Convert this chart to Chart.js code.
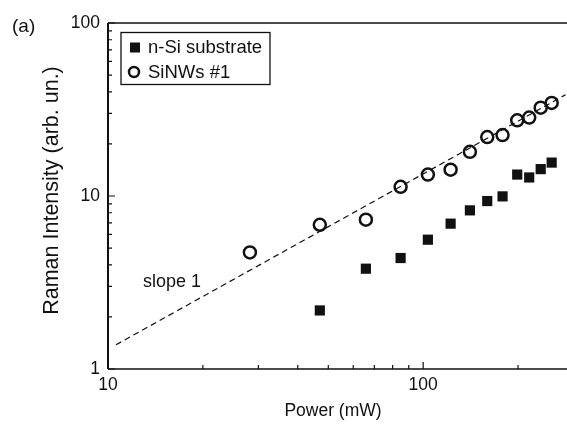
<!DOCTYPE html>
<html>
<head>
<meta charset="utf-8">
<script src="https://cdn.jsdelivr.net/npm/chart.js@4.4.1/dist/chart.umd.min.js"></script>
<style>
    body { margin: 0; background: #fff; }
    #wrap { width: 567px; height: 424px; }
</style>
</head>
<body>
<div id="wrap"><canvas id="raman-chart" width="567" height="424"></canvas></div>
<script>
// values (log-log)
const powerNWs = [28.2, 47.0, 65.8, 84.8, 103.5, 122.2, 140.7, 159.7, 178.6, 198.8, 217, 236, 255.7];
const intensityNWs = [4.72, 6.82, 7.30, 11.3, 13.3, 14.2, 18.0, 21.9, 22.5, 27.4, 28.4, 32.4, 34.5];
const powerSi = [47.0, 65.8, 84.8, 103.5, 122.2, 140.7, 159.7, 178.6, 198.8, 217, 236, 255.7];
const intensitySi = [2.18, 3.80, 4.38, 5.59, 6.92, 8.26, 9.35, 9.95, 13.3, 12.8, 14.3, 15.6];
const slopePower = [10.6, 283];
const slopeIntensity = [1.38, 38.5];
const xTickLabels = [10, 100];
const yTickLabels = [1, 10, 100];

const FONT = '"Liberation Sans", Arial, Helvetica, sans-serif';
const INK = '#111';

const toPoints = (xs, ys) => xs.map((x, i) => ({ x: x, y: ys[i] }));

// inward ticks, frame, legend and annotations
const decorations = {
    id: 'decorations',
    afterDraw(chart) {
        const ctx = chart.ctx;
        const area = chart.chartArea;
        const xs = chart.scales.x;
        const ys = chart.scales.y;
        ctx.save();
        ctx.strokeStyle = INK;

        // frame: left, bottom, top
        ctx.lineWidth = 2;
        ctx.beginPath();
        ctx.moveTo(area.left, area.top);
        ctx.lineTo(area.left, area.bottom);
        ctx.stroke();
        ctx.lineWidth = 1.6;
        ctx.beginPath();
        ctx.moveTo(area.left, area.bottom);
        ctx.lineTo(area.right, area.bottom);
        ctx.moveTo(area.left, area.top);
        ctx.lineTo(area.right, area.top);
        ctx.stroke();

        ctx.lineWidth = 1.2;
        ctx.beginPath();
        for (let d = 1; d <= 2; d++) {
            for (let m = 1; m <= 9; m++) {
                const v = m * Math.pow(10, d);
                if (v < xs.min || v > xs.max) continue;
                const px = xs.getPixelForValue(v);
                const len = m === 1 ? 7 : 4;
                ctx.moveTo(px, area.bottom);
                ctx.lineTo(px, area.bottom - len);
            }
        }
        for (let d = 0; d <= 2; d++) {
            for (let m = 1; m <= 9; m++) {
                const v = m * Math.pow(10, d);
                if (v < ys.min || v > ys.max) continue;
                const py = ys.getPixelForValue(v);
                const len = m === 1 ? 7 : 4;
                ctx.moveTo(area.left, py);
                ctx.lineTo(area.left + len, py);
            }
        }
        ctx.stroke();

        // legend
        ctx.lineWidth = 1.3;
        ctx.strokeRect(121, 32.5, 149, 52);
        ctx.fillStyle = INK;
        ctx.fillRect(130, 42.5, 10, 10);
        ctx.lineWidth = 2.5;
        ctx.beginPath();
        ctx.arc(134, 72, 5, 0, Math.PI * 2);
        ctx.stroke();
        ctx.font = '18.5px ' + FONT;
        ctx.textBaseline = 'middle';
        ctx.textAlign = 'left';
        ctx.fillText(chart.data.datasets[0].label, 148, 48);
        ctx.fillText(chart.data.datasets[1].label, 148, 72.5);

        // annotations
        ctx.font = '19px ' + FONT;
        ctx.fillText('(a)', 12, 27);
        ctx.font = '18px ' + FONT;
        ctx.fillText('slope 1', 143, 282);

        // axis titles
        ctx.textAlign = 'center';
        ctx.font = '17.5px ' + FONT;
        ctx.fillText('Power (mW)', 333, 411);
        ctx.translate(52, 190.5);
        ctx.rotate(-Math.PI / 2);
        ctx.font = '21.5px ' + FONT;
        ctx.fillText('Raman Intensity (arb. un.)', 0, 0);
        ctx.restore();
    }
};

const ctx = document.getElementById('raman-chart').getContext('2d');
new Chart(ctx, {
    type: 'scatter',
    data: {
        datasets: [{
            label: 'n-Si substrate',
            data: toPoints(powerSi, intensitySi),
            pointStyle: 'rect',
            pointRadius: 7.2,
            pointHoverRadius: 7.2,
            backgroundColor: INK,
            borderColor: INK,
            borderWidth: 0
        }, {
            label: 'SiNWs #1',
            data: toPoints(powerNWs, intensityNWs),
            pointStyle: 'circle',
            pointRadius: 6,
            pointHoverRadius: 6,
            backgroundColor: 'rgba(0,0,0,0)',
            borderColor: INK,
            borderWidth: 2.5
        }, {
            label: 'slope 1',
            type: 'line',
            data: toPoints(slopePower, slopeIntensity),
            borderColor: INK,
            borderWidth: 1.2,
            borderDash: [6, 4],
            pointRadius: 0,
            showLine: true,
            fill: false
        }]
    },
    options: {
        responsive: false,
        animation: false,
        events: [],
        layout: {
            autoPadding: false,
            padding: { top: 23, right: 0, left: 0, bottom: 0 }
        },
        plugins: {
            legend: { display: false },
            tooltip: { enabled: false }
        },
        scales: {
            x: {
                type: 'logarithmic',
                min: 10,
                max: 286,
                grid: { display: false, drawTicks: false },
                border: { display: false },
                afterFit: (scale) => {
                    scale.height = 55;
                    scale.paddingLeft = 0;
                    scale.paddingRight = 0;
                },
                ticks: {
                    autoSkip: false,
                    maxRotation: 0,
                    padding: 6,
                    color: INK,
                    font: { family: FONT, size: 17.5 },
                    callback: (v) => xTickLabels.includes(v) ? String(v) : ''
                }
            },
            y: {
                type: 'logarithmic',
                min: 1,
                max: 100,
                grid: { display: false, drawTicks: false },
                border: { display: false },
                afterFit: (scale) => {
                    scale.width = 108;
                    scale.paddingTop = 0;
                    scale.paddingBottom = 0;
                },
                ticks: {
                    autoSkip: false,
                    padding: 8,
                    color: INK,
                    font: { family: FONT, size: 17.5 },
                    callback: (v) => yTickLabels.includes(v) ? String(v) : ''
                }
            }
        }
    },
    plugins: [decorations]
});
</script>
</body>
</html>
